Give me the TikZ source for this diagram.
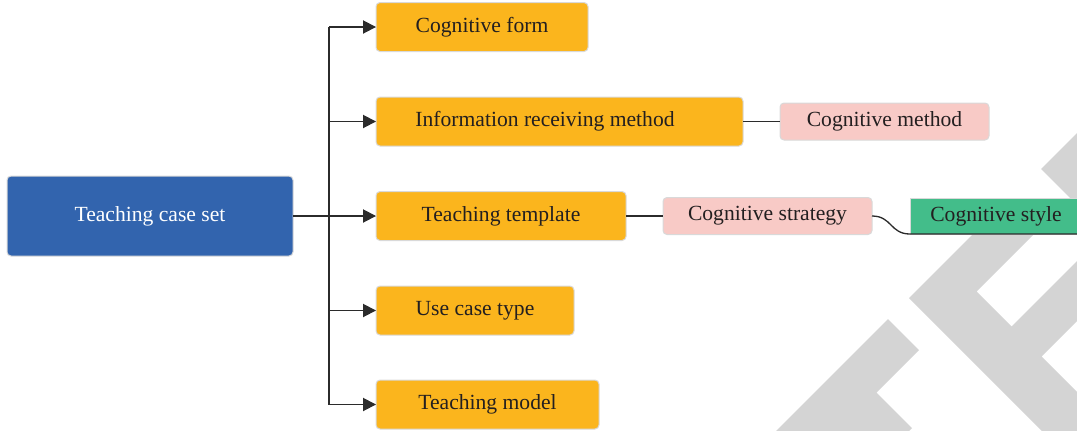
\documentclass[tikz,border=0pt]{standalone}
\usepackage{fontspec}
\setmainfont{Liberation Serif}
\usetikzlibrary{arrows.meta}
\definecolor{boxblue}{HTML}{3264AE}
\definecolor{boxorange}{HTML}{FBB51D}
\definecolor{boxpink}{HTML}{F8CAC6}
\definecolor{boxgreen}{HTML}{43BD8A}
\definecolor{boxborder}{HTML}{D9D9D9}
\definecolor{linecol}{HTML}{2B2B2B}
\definecolor{txt}{HTML}{231F20}
\definecolor{wmgray}{HTML}{D4D4D4}
\begin{document}
\begin{tikzpicture}[x=0.5pt,y=-0.5pt,
  box/.style={draw=boxborder, line width=0.5pt, rounded corners=2pt, inner sep=0pt, outer sep=0pt, anchor=west, text=txt, font=\fontsize{10.8}{12}\selectfont},
  obox/.style={box, fill=boxorange, minimum height=24.5pt},
  pbox/.style={box, fill=boxpink, minimum height=18.5pt},
  gbox/.style={box, fill=boxgreen, rounded corners=0pt, minimum height=18pt},
  bbox/.style={box, fill=boxblue, text=white, minimum height=40pt},
  line/.style={draw=linecol, line width=0.65pt},
  arr/.style={line, -{Triangle[length=6.5pt,width=6.6pt]}},
  wm/.style={fill=wmgray, draw=none}]
\useasboundingbox (0,0) rectangle (1077,430);
\begin{scope}
\clip (0,0) rectangle (1077,430);
% watermark shapes
\path[wm] (888,319) -- (919,350) -- (876.5,392.5) -- (912,428) -- (820,520) -- (753.5,453.5) -- cycle;
\path[wm] (909,298) -- (1006,201) -- (1036.5,231.5) -- (976.5,291.5) -- (1011.5,326.5) -- (1144,194) -- (1174,224) -- (1041.5,356.5) -- (1142.5,457.5) -- (1105.5,494.5) -- cycle;
\path[wm] (1041,169) -- (1105,105) -- (1150,150) -- (1086,214) -- cycle;

% nodes
\node[bbox, minimum width=143pt] (root) at (7,216) {Teaching case set};
\node[obox, minimum width=106pt] (cf) at (376,27) {Cognitive form};
\node[obox, minimum width=183.5pt] (info) at (376,121.5) {Information receiving method\hbox to 14.5pt{}};
\node[obox, minimum width=125pt] (tmpl) at (376,216) {Teaching template};
\node[obox, minimum width=99pt] (use) at (376,310.5) {Use case type};
\node[obox, minimum width=111.5pt] (model) at (376,404.5) {Teaching model};
\node[pbox, minimum width=104.5pt] (cmeth) at (780,121.5) {Cognitive method};
\node[pbox, minimum width=104.5pt] (cstrat) at (663,216) {Cognitive strategy};
\node[gbox, minimum width=86pt] (cstyle) at (910,216) {Cognitive style};

% connectors
\coordinate (ttop) at (329,27);
\coordinate (tbot) at (329,404.5);
\draw[line] (ttop) -- (tbot);
\draw[arr] (ttop) -- (cf.west);
\draw[arr] (info.west -| ttop) -- (info.west);
\draw[arr] (root.east) -- (tmpl.west);
\draw[arr] (use.west -| ttop) -- (use.west);
\draw[arr] (tbot) -- (model.west);
\draw[line] (info.east) -- (cmeth.west);
\draw[line] (tmpl.east) -- (cstrat.west);
\draw[line] (cstrat.east) .. controls +(20,0) and +(-20,0) .. (cstyle.south west) -- (cstyle.south east);
\end{scope}
\end{tikzpicture}
\end{document}
